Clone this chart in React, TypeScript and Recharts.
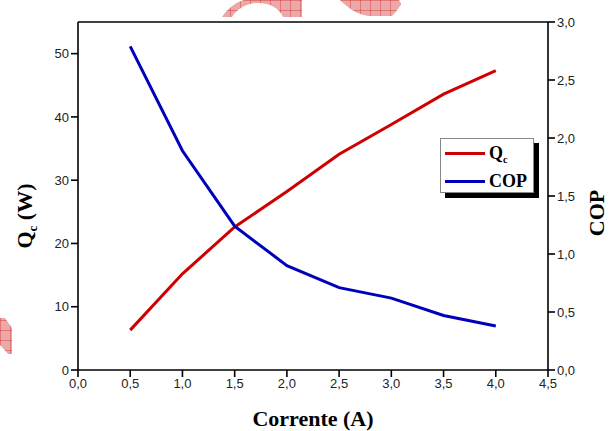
import React from "react"
import { LineChart, Line, XAxis, YAxis, Legend, ReferenceLine } from "recharts"

// Corrente (A)
const currents = [0.5, 1.0, 1.5, 2.0, 2.5, 3.0, 3.5, 4.0]
// Qc (W), left axis
const qcValues = [6.3, 15.2, 22.6, 28.2, 34.1, 38.8, 43.6, 47.3]
// COP, right axis
const copValues = [2.79, 1.89, 1.24, 0.9, 0.71, 0.62, 0.47, 0.38]

const xTicks = [0, 0.5, 1.0, 1.5, 2.0, 2.5, 3.0, 3.5, 4.0, 4.5]
const qcTicks = [0, 10, 20, 30, 40, 50]
const copTicks = [0, 0.5, 1.0, 1.5, 2.0, 2.5, 3.0]
const legendOrder = ["Qc", "COP"]

const data = currents.map((c, i) => ({ corrente: c, qc: qcValues[i], cop: copValues[i] }))

const RED = "#d00000"
const BLUE = "#0000bb"
const comma = (v: number) => v.toFixed(1).replace(".", ",")
const tickStyle = { fill: "#222", fontSize: 13, fontFamily: "Liberation Sans, Arial, sans-serif" }
const labelFont = "Liberation Serif, Times New Roman, serif"

function LegendBox({ payload }: any) {
  const items = [...(payload || [])].sort((a: any, b: any) => legendOrder.indexOf(a.value) - legendOrder.indexOf(b.value))
  return (
    <div
      style={{
        width: 94,
        height: 55,
        boxSizing: "border-box",
        border: "1px solid #888",
        background: "#fff",
        boxShadow: "5px 5px 0 #000",
        fontFamily: labelFont,
        fontWeight: "bold",
        fontSize: 18,
        paddingTop: 2,
      }}
    >
      {items.map((entry: any) => (
        <div key={entry.value} style={{ display: "flex", alignItems: "center", height: 25, paddingLeft: 4, marginBottom: 3 }}>
          <div style={{ width: 40, height: 3, background: entry.color, marginRight: 4 }} />
          <span>
            {entry.value === "Qc" ? (
              <>
                Q<sub style={{ fontSize: 10, verticalAlign: "-4px" }}>c</sub>
              </>
            ) : (
              entry.value
            )}
          </span>
        </div>
      ))}
    </div>
  )
}

// red hatched shapes from the scanned page (decoration only)
function Watermark() {
  return (
    <svg width={609} height={431} style={{ position: "absolute", left: 0, top: 0, pointerEvents: "none" }}>
      <defs>
        <pattern id="hatch" width="10" height="10" patternUnits="userSpaceOnUse">
          <rect width="10" height="10" fill="#eaa8a8" />
          <path d="M0,0 L10,0 M0,0 L0,10" stroke="#c81818" strokeWidth="0.7" />
        </pattern>
      </defs>
      <path d="M222,17 C228,8 236,2 244,0 L302,0 L302,17 L283,17 C279,8 270,3 258,3 C246,3 237,9 232,17 Z" fill="url(#hatch)" />
      <path d="M340,0 C348,8 356,14 368,16 L392,16 C396,12 399,8 401,4 L399,0 Z" fill="url(#hatch)" />
      <path d="M0,318 L5,318 L12,328 L12,354 L8,354 L0,345 Z" fill="url(#hatch)" />
    </svg>
  )
}

export default function App() {
  return (
    <div style={{ position: "absolute", left: 0, top: 0, width: 609, height: 431, background: "#fff" }}>
      <LineChart width={609} height={431} data={data} margin={{ top: 22, right: 0, bottom: 0, left: 0 }}>
        <XAxis
          dataKey="corrente"
          type="number"
          domain={[0, 4.5]}
          ticks={xTicks}
          tickFormatter={comma}
          height={61}
          tickSize={7}
          tick={tickStyle}
          stroke="#000"
          strokeWidth={1.6}
          label={{
            content: () => (
              <text x={313} y={426} textAnchor="middle" fontFamily={labelFont} fontWeight="bold" fontSize={22} fill="#000">
                Corrente (A)
              </text>
            ),
          }}
        />
        <YAxis
          yAxisId="left"
          domain={[0, 55]}
          ticks={qcTicks}
          width={78}
          tickSize={7}
          tick={tickStyle}
          stroke="#000"
          strokeWidth={1.6}
          label={{
            content: () => (
              <text
                x={32}
                y={216}
                transform="rotate(-90, 32, 216)"
                textAnchor="middle"
                fontFamily={labelFont}
                fontWeight="bold"
                fontSize={22}
                fill="#000"
              >
                Q<tspan fontSize={13} dy={5}>c</tspan>
                <tspan dy={-5}> (W)</tspan>
              </text>
            ),
          }}
        />
        <YAxis
          yAxisId="right"
          orientation="right"
          domain={[0, 3]}
          ticks={copTicks}
          tickFormatter={comma}
          width={61}
          tickSize={7}
          tick={tickStyle}
          stroke="#000"
          strokeWidth={1.6}
          label={{
            content: () => (
              <text
                x={604}
                y={213}
                transform="rotate(-90, 604, 213)"
                textAnchor="middle"
                fontFamily={labelFont}
                fontWeight="bold"
                fontSize={22}
                fill="#000"
              >
                COP
              </text>
            ),
          }}
        />
        <ReferenceLine yAxisId="left" y={55} stroke="#000" strokeWidth={1.6} />
        <Legend
          layout="vertical"
          align="center"
          verticalAlign="middle"
          content={<LegendBox />}
          wrapperStyle={{ left: 440, top: 138, width: 94 }}
        />
        <Line yAxisId="left" dataKey="qc" name="Qc" stroke={RED} strokeWidth={3} dot={false} isAnimationActive={false} />
        <Line yAxisId="right" dataKey="cop" name="COP" stroke={BLUE} strokeWidth={3} dot={false} isAnimationActive={false} />
      </LineChart>
      <Watermark />
    </div>
  )
}
